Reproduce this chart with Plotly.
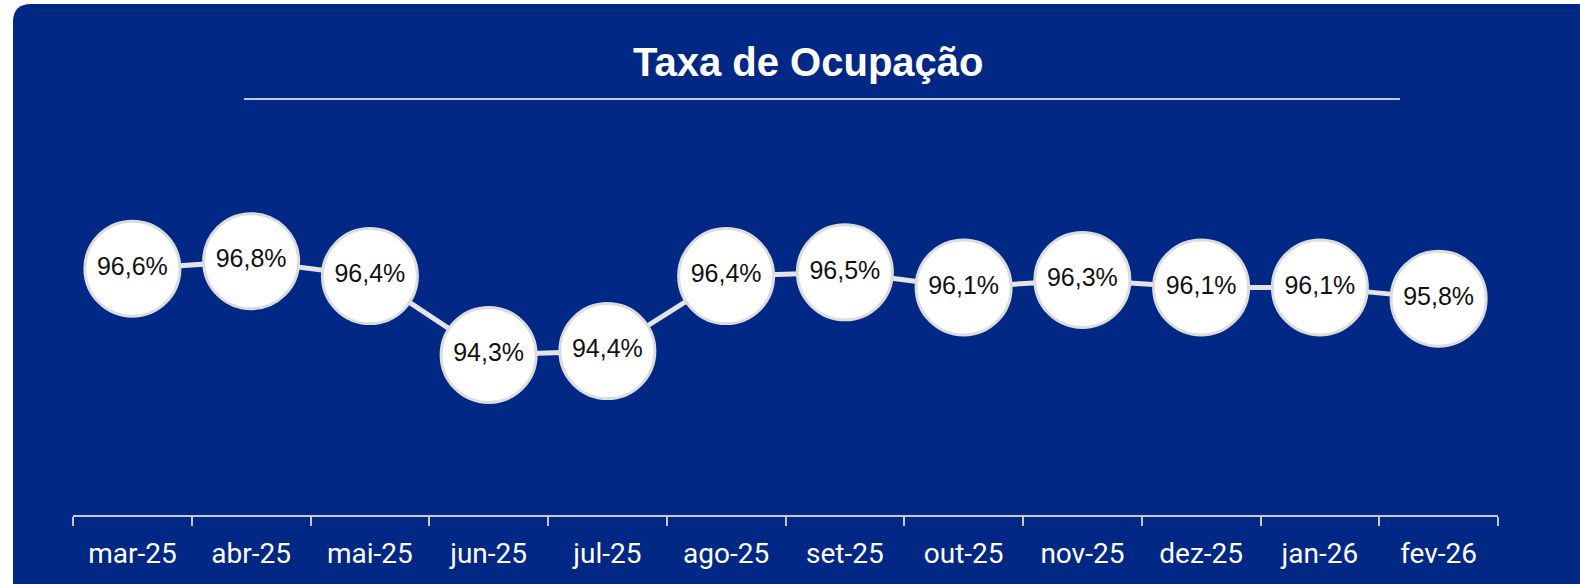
import plotly.graph_objects as go

# monthly occupancy rate (%)
months = ["mar-25", "abr-25", "mai-25", "jun-25", "jul-25", "ago-25",
          "set-25", "out-25", "nov-25", "dez-25", "jan-26", "fev-26"]
occupancy = [96.6, 96.8, 96.4, 94.3, 94.4, 96.4, 96.5, 96.1, 96.3, 96.1, 96.1, 95.8]

title_text = "Taxa de Ocupação"

BLUE = "#002884"

# plot area in pixels (used to place the background card and title)
L, R, T, B = 73, 1498, 110, 515
W, H = R - L, B - T


def px_x(p):
    return (p - L) / W


def px_y(p):
    return (B - p) / H


fig = go.Figure()

fig.add_trace(
    go.Scatter(
        x=months,
        y=occupancy,
        mode="lines+markers+text",
        line=dict(color="#e4e4e4", width=5),
        marker=dict(size=95, color="white",
                    line=dict(color="#dcdcdc", width=3)),
        texttemplate="%{y:.1f}%",
        textposition="middle center",
        textfont=dict(family="Liberation Sans, Arial", size=25, color="#111111"),
        hoverinfo="skip",
        cliponaxis=False,
        showlegend=False,
    )
)

# rounded dark blue card
x0, x1 = px_x(13), px_x(1620)
yt, yb = px_y(4), px_y(640)
rx, ry = 18 / W, 18 / H
card = (f"M {x0},{yt - ry} Q {x0},{yt} {x0 + rx},{yt} "
        f"L {x1},{yt} L {x1},{yb} L {x0},{yb} Z")

fig.update_layout(
    width=1580,
    height=584,
    autosize=False,
    margin=dict(l=L, r=1580 - R, t=T, b=584 - B),
    paper_bgcolor="white",
    plot_bgcolor="rgba(0,0,0,0)",
    separators=",.",
    shapes=[
        dict(type="path", path=card, xref="paper", yref="paper",
             fillcolor=BLUE, line=dict(width=0), layer="below"),
        dict(type="line", xref="paper", yref="paper",
             x0=px_x(244), x1=px_x(1400), y0=px_y(99), y1=px_y(99),
             line=dict(color="white", width=1.5)),
    ],
    annotations=[
        dict(text=f"<b>{title_text}</b>", xref="paper", yref="paper",
             x=px_x(808), y=px_y(62), xanchor="center", yanchor="middle",
             showarrow=False,
             font=dict(family="Liberation Sans, Arial", size=40, color="white")),
    ],
    xaxis=dict(
        type="category",
        range=[-0.5, 11.5],
        tickson="boundaries",
        ticks="outside",
        ticklen=9,
        tickwidth=2,
        tickcolor="#c8c8c8",
        showline=True,
        linecolor="#c8c8c8",
        linewidth=2,
        showgrid=False,
        zeroline=False,
        ticklabelstandoff=12,
        tickfont=dict(family="Roboto", size=28, color="white"),
        fixedrange=True,
    ),
    yaxis=dict(
        range=[90.03, 90.03 + H / 37.5],
        visible=False,
        showgrid=False,
        zeroline=False,
        fixedrange=True,
    ),
)

fig.write_html("out.html", config={"displayModeBar": False},
               post_script="document.body.style.margin='0';")
